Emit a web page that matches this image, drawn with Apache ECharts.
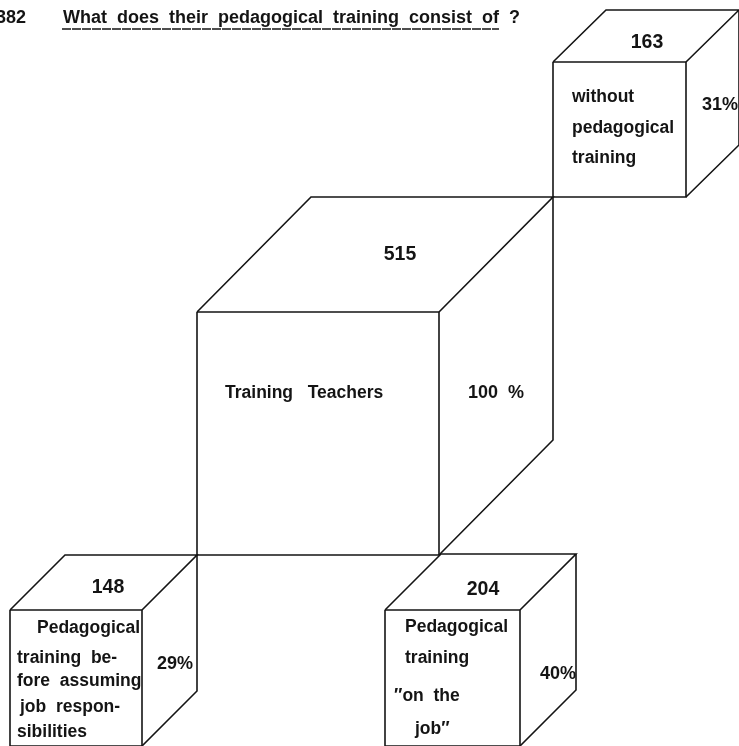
<!DOCTYPE html>
<html>
<head>
<meta charset="utf-8">
<style>
  html, body { margin: 0; padding: 0; background: #fff; }
  #chart { width: 739px; height: 746px; }
</style>
<script src="https://cdn.jsdelivr.net/npm/echarts@6/dist/echarts.min.js"></script>
</head>
<body>
<div id="chart"></div>
<script>
// values
const questionNo = '382';
const question = 'What  does  their  pedagogical  training  consist  of  ?';
const counts = ['515', '163', '148', '204'];
const shares = ['100  %', '31%', '29%', '40%'];
const captions = [
  ['Training   Teachers'],
  ['without', 'pedagogical', 'training'],
  ['Pedagogical', 'training  be-', 'fore  assuming', 'job  respon-', 'sibilities'],
  ['Pedagogical', 'training', '\u2033on  the', 'job\u2033'],
];

// cube layout in picture coordinates: x, y of front face top left, w, h, depth x, depth y
const cubeBoxes = [
  [197, 312, 242, 243, 114, 115],
  [553, 62, 133, 135, 53, 52],
  [10, 610, 132, 136, 55, 55],
  [385, 610, 135, 136, 56, 56],
];
// where the texts sit: [x, y] of count centre, share left, and each caption line left
const countAt = [[400, 255], [647, 43], [108, 588], [483, 590]];
const shareAt = [[468, 393], [702, 105], [157, 664], [540, 674]];
const captionAt = [
  [[225, 393]],
  [[572, 97], [572, 128], [572, 158]],
  [[37, 628], [17, 658], [17, 681], [20, 707], [17, 732]],
  [[405, 627], [405, 658], [394, 696], [415, 729]],
];

const INK = '#141414';
const FONT = 'bold 17.5px "Liberation Sans", Arial, sans-serif';
const HEAD_FONT = 'bold 18px "Liberation Sans", Arial, sans-serif';
const SHARE_FONT = 'bold 18px "Liberation Sans", Arial, sans-serif';
const COUNT_FONT = 'bold 19.5px "Liberation Sans", Arial, sans-serif';

function textEl(api, x, y, text, align, font) {
  const p = api.coord([x, y]);
  return {
    type: 'text',
    style: { x: p[0], y: p[1], text, font: font || FONT, fill: INK, align, verticalAlign: 'middle' },
  };
}

function renderCube(params, api) {
  const i = params.dataIndex;
  const [x, y, w, h, dx, dy] = cubeBoxes[i];
  const pt = (a, b) => api.coord([a, b]);
  const outline = [
    [pt(x, y), pt(x + w, y), pt(x + w, y + h), pt(x, y + h), pt(x, y)],
    [pt(x, y), pt(x + dx, y - dy), pt(x + w + dx, y - dy), pt(x + w, y)],
    [pt(x + w + dx, y - dy), pt(x + w + dx, y + h - dy), pt(x + w, y + h)],
  ];
  const children = outline.map((points) => ({
    type: 'polyline',
    shape: { points },
    style: { stroke: INK, lineWidth: 1.6, fill: null },
  }));
  children.push(textEl(api, countAt[i][0], countAt[i][1], counts[i], 'center', COUNT_FONT));
  children.push(textEl(api, shareAt[i][0], shareAt[i][1], shares[i], 'left', SHARE_FONT));
  captions[i].forEach((line, n) => {
    children.push(textEl(api, captionAt[i][n][0], captionAt[i][n][1], line, 'left'));
  });
  return { type: 'group', children };
}

function renderHeading(params, api) {
  const a = api.coord([62, 29]);
  const b = api.coord([499, 29]);
  return {
    type: 'group',
    children: [
      textEl(api, -4, 18, questionNo, 'left', HEAD_FONT),
      textEl(api, 63, 18, question, 'left', HEAD_FONT),
      {
        type: 'line',
        shape: { x1: a[0], y1: a[1], x2: b[0], y2: b[1] },
        style: { stroke: INK, lineWidth: 1.5, lineDash: [9, 1] },
      },
    ],
  };
}

const chart = echarts.init(document.getElementById('chart'));
chart.setOption({
  animation: false,
  backgroundColor: '#fff',
  grid: { left: 0, right: 0, top: 0, bottom: 0 },
  xAxis: { type: 'value', min: 0, max: 739, show: false },
  yAxis: { type: 'value', min: 0, max: 746, inverse: true, show: false },
  series: [
    { type: 'custom', coordinateSystem: 'cartesian2d', data: counts.map((c, i) => [i, Number(c)]), renderItem: renderCube, silent: true },
    { type: 'custom', coordinateSystem: 'cartesian2d', data: [[0, 0]], renderItem: renderHeading, silent: true },
  ],
});
</script>
</body>
</html>
